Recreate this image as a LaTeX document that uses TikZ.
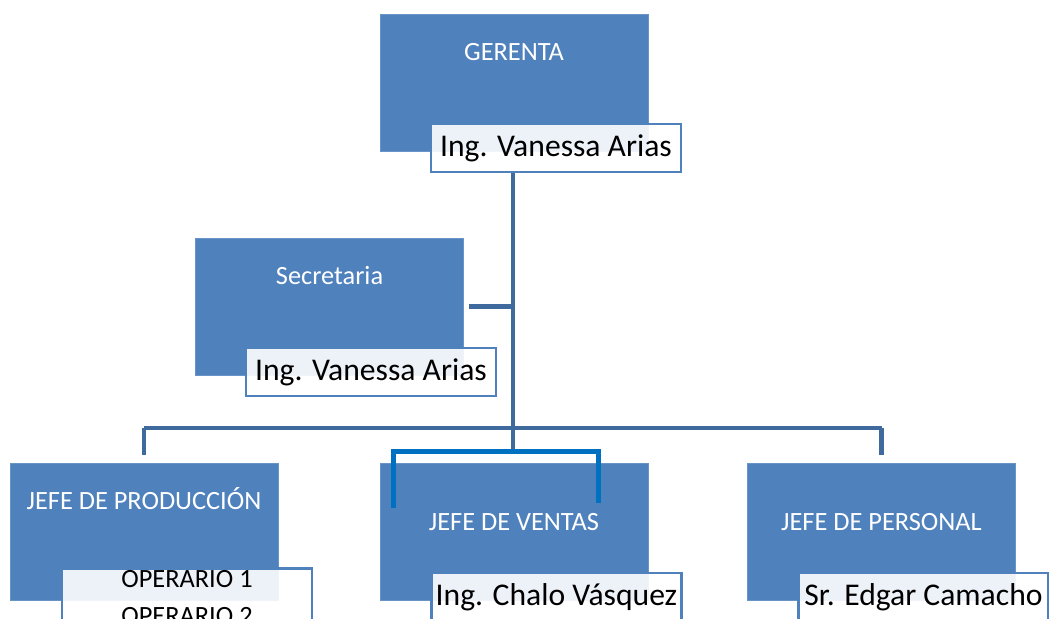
\documentclass[tikz,border=0pt]{standalone}
\usepackage{fontspec}
\setmainfont{Carlito}
\usetikzlibrary{positioning,calc}
\definecolor{boxblue}{HTML}{4F81BD}
\definecolor{lineblue}{HTML}{3E6A9E}
\definecolor{brblue}{HTML}{0070C0}
\begin{document}
\begin{tikzpicture}[x=0.02cm, y=-0.02cm,
    box/.style={rectangle, fill=boxblue, draw=boxblue!85!white, line width=0.4pt, minimum width=5.36cm, minimum height=2.74cm, align=center, text=white, font=\fontsize{15}{18}\selectfont, text height=0.4cm, text depth=1.3cm},
    midbox/.style={text depth=0.45cm},
    lbl/.style={rectangle, draw=boxblue, line width=1.6pt, fill=white, fill opacity=0.9, text opacity=1, minimum width=5cm, minimum height=0.96cm, font=\fontsize{18}{21}\selectfont, text height=0.45cm, text depth=0.13cm, inner sep=2pt},
    operlbl/.style={rectangle, draw=boxblue, line width=1.6pt, fill=white, fill opacity=0.9, text opacity=1, minimum width=5cm, anchor=north, align=center, font=\fontsize{15}{21}\selectfont, inner xsep=2pt, inner ysep=1pt},
    link/.style={draw=lineblue, line width=2.3pt},
    bracket/.style={draw=brblue, line width=2.8pt}]
    \clip (0,0) rectangle (1049,619);

    % Gerenta
    \node[box] (ger) at (514,83) {GERENTA};
    \node[lbl] (gerlbl) at (556,148) {Ing. Vanessa Arias};

    % Secretaria
    \node[box] (sec) at (329.5,306.5) {Secretaria};
    \node[lbl] (seclbl) at (371,372) {Ing. Vanessa Arias};

    % Jefes
    \node[box] (prod) at (144,531.5) {JEFE DE PRODUCCIÓN};
    \node[operlbl] (oper) at (187,567) {OPERARIO 1\\OPERARIO 2};
    \node[box, midbox] (ven) at (514,531.5) {JEFE DE VENTAS};
    \node[lbl] (venlbl) at (556.5,597) {Ing. Chalo Vásquez};
    \node[box, midbox] (per) at (881.5,531.5) {JEFE DE PERSONAL};
    \node[lbl] (perlbl) at (923.5,597) {Sr. Edgar Camacho};

    % Lineas
    \coordinate (bus) at (513,428);
    \coordinate (brk) at (513,452);
    \draw[link] (gerlbl.south -| bus) -- (brk);
    \draw[link] ([xshift=0.1cm]sec.east) -- (sec.east -| bus);
    \draw[link] (prod.north |- bus) -- (per.north |- bus);
    \draw[link] (prod.north |- bus) -- ([yshift=0.16cm]prod.north);
    \draw[link] (per.north |- bus) -- ([yshift=0.16cm]per.north);
    \draw[bracket] ($(ven.north west)+(14,45)$) -- ($(ven.north west)+(14,-11)$) -- ($(ven.north east)+(-50,-11)$) -- ($(ven.north east)+(-50,40)$);
\end{tikzpicture}
\end{document}
